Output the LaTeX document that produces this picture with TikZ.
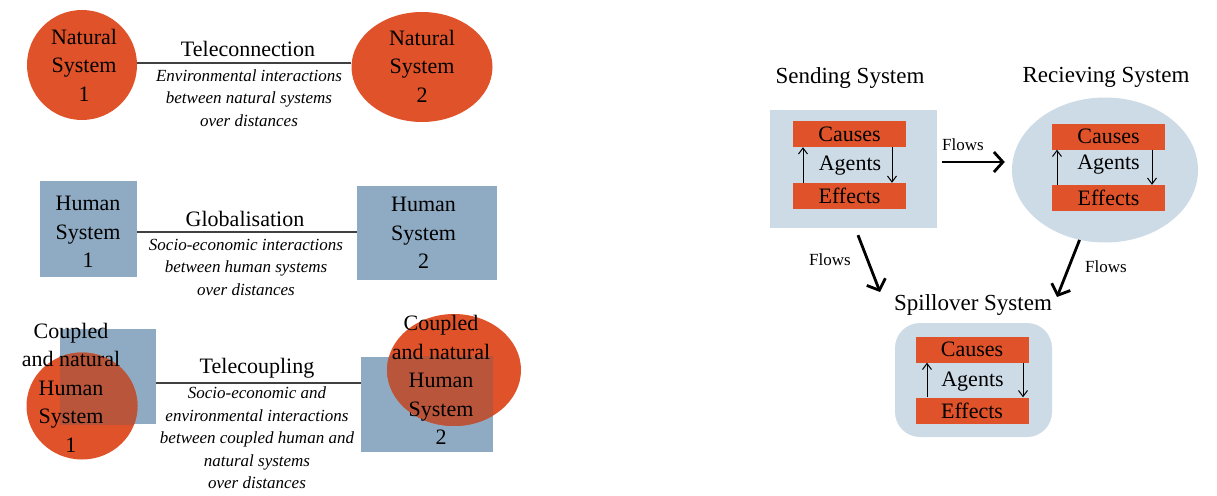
\documentclass[tikz,border=0pt]{standalone}
\usepackage{fontspec}
\setmainfont{Liberation Serif}
\usetikzlibrary{arrows.meta,shapes.geometric}
\definecolor{org}{HTML}{E0522A}
\definecolor{hblue}{HTML}{8FAAC3}
\definecolor{lblue}{HTML}{CDDBE6}
\definecolor{ovl}{HTML}{B9553A}
\begin{document}
\begin{tikzpicture}[x=1pt,y=-1pt,
  natshape/.style={ellipse, fill=org, inner sep=0, draw=none},
  humshape/.style={rectangle, fill=hblue, inner sep=0, draw=none},
  sys/.style={font=\fontsize{22}{28.5}\selectfont, align=center, inner sep=0},
  head/.style={font=\fontsize{22}{26}\selectfont, inner sep=0},
  desc/.style={font=\fontsize{17}{22.5}\selectfont\itshape, align=center, inner sep=0},
  link/.style={draw=black!75, line width=1.2pt},
  bar/.style={fill=org, inner sep=0, minimum width=113, minimum height=26, font=\fontsize{22}{26}\selectfont},
  cycarrow/.style={-{Straight Barb[length=6pt,width=9pt]}, line width=1pt},
  flow/.style={-{Straight Barb[length=9pt,width=20pt]}, line width=2.8pt},
  flowlbl/.style={font=\fontsize{17}{20}\selectfont, inner sep=0},
  title/.style={font=\fontsize{23}{26}\selectfont, inner sep=0},
  agents/.style={font=\fontsize{22}{26}\selectfont, inner sep=0}]
\useasboundingbox (0,0) rectangle (1217,495);
\fill[white] (0,0) rectangle (1217,495);

% ---------- Row 1: Teleconnection ----------
\node[natshape, minimum width=110, minimum height=110] (ns1) at (82,65) {};
\node[natshape, minimum width=141, minimum height=110] (ns2) at (422,67) {};
\coordinate (y1) at (0,63);
\draw[link] (ns1.east |- y1) -- (ns2.west |- y1);
\node[sys] (ns1t) at (84,65) {Natural\\System\\1};
\node[sys] (ns2t) at (422,66) {Natural\\System\\2};
\node[head] (tc) at (248,49) {Teleconnection};
\node[desc] (tcd) at (249,98) {Environmental interactions\\between natural systems\\over distances};

% ---------- Row 2: Globalisation ----------
\node[humshape, minimum width=97, minimum height=96] (hs1) at (88.5,229) {};
\node[humshape, minimum width=140, minimum height=94] (hs2) at (427,233) {};
\coordinate (y2) at (0,232);
\draw[link] (hs1.east |- y2) -- (hs2.west |- y2);
\node[sys] (hs1t) at (88,232) {Human\\System\\1};
\node[sys] (hs2t) at (423.5,233) {Human\\System\\2};
\node[head] (gl) at (245,219) {Globalisation};
\node[desc] (gld) at (246,267) {Socio-economic interactions\\between human systems\\over distances};

% ---------- Row 3: Telecoupling ----------
\node[humshape, minimum width=96, minimum height=95] (c1r) at (108,376.5) {};
\node[natshape, minimum width=111, minimum height=107] (c1c) at (82,406) {};
\begin{scope}
  \clip (c1r.north west) rectangle (c1r.south east);
  \fill[ovl] (c1c.center) ellipse [x radius=55.5, y radius=53.5];
\end{scope}
\node[humshape, minimum width=132, minimum height=95] (c2r) at (427,404.5) {};
\node[natshape, minimum width=134, minimum height=112] (c2c) at (454,370) {};
\begin{scope}
  \clip (c2r.north west) rectangle (c2r.south east);
  \fill[ovl] (c2c.center) ellipse [x radius=67, y radius=56];
\end{scope}
\coordinate (y3) at (0,383);
\draw[link] (c1r.east |- y3) -- (c2r.west |- y3);
\node[sys] (c1t) at (71,387.5) {Coupled\\and natural\\Human\\System\\1};
\node[sys] (c2t) at (441,380) {Coupled\\and natural\\Human\\System\\2};
\node[head] (tl) at (257,368) {Telecoupling};
\node[desc] (tld) at (257,438) {Socio-economic and\\environmental interactions\\between coupled human and\\natural systems\\over distances};

% ---------- Right: Sending system ----------
\node[title] (st) at (850,78) {Sending System};
\node[fill=lblue, inner sep=0, minimum width=167, minimum height=118] (sbox) at (853.5,169) {};
\node[bar] (sc) at (849.5,134) {Causes};
\node[bar] (se) at (849.5,196) {Effects};
\node[agents] (sa) at (850,166) {Agents};
\draw[cycarrow] ([xshift=-46.5pt]se.north) -- ([xshift=-46.5pt]sc.south);
\draw[cycarrow] ([xshift=42.5pt]sc.south) -- ([xshift=42.5pt]se.north);

% ---------- Right: Receiving system ----------
\node[title] (rt) at (1106,77) {Recieving System};
\node[ellipse, fill=lblue, inner sep=0, minimum width=186, minimum height=145] (rec) at (1105,170) {};
\node[bar] (rc) at (1108.5,136.5) {Causes};
\node[bar] (re) at (1108.5,198) {Effects};
\node[agents] (ra) at (1108.5,165) {Agents};
\draw[cycarrow] ([xshift=-51.5pt]re.north) -- ([xshift=-51.5pt]rc.south);
\draw[cycarrow] ([xshift=43.5pt]rc.south) -- ([xshift=43.5pt]re.north);

% ---------- Right: Spillover system ----------
\node[title] (spt) at (973,305) {Spillover System};
\node[fill=lblue, inner sep=0, rounded corners=25pt, minimum width=157, minimum height=114] (sp) at (973.5,380) {};
\node[bar] (pc) at (972,349.5) {Causes};
\node[bar] (pe) at (972,410.5) {Effects};
\node[agents] (pa) at (972.5,382) {Agents};
\draw[cycarrow] ([xshift=-45pt]pe.north) -- ([xshift=-45pt]pc.south);
\draw[cycarrow] ([xshift=51pt]pc.south) -- ([xshift=51pt]pe.north);

% ---------- Flows ----------
\draw[flow] ([xshift=5pt,yshift=7pt]sbox.east) -- ([xshift=-7pt,yshift=8pt]rec.west);
\node[flowlbl] (f1) at (963,145) {Flows};
\coordinate (fl2) at (880,292);
\draw[flow] ([xshift=4.5pt,yshift=-7pt]sbox.south) -- (fl2);
\node[flowlbl] (f2) at (830,260) {Flows};
\coordinate (fl3) at (1057,297);
\draw[flow] (rec.250) -- (fl3);
\node[flowlbl] (f3) at (1106,267) {Flows};
\end{tikzpicture}
\end{document}
